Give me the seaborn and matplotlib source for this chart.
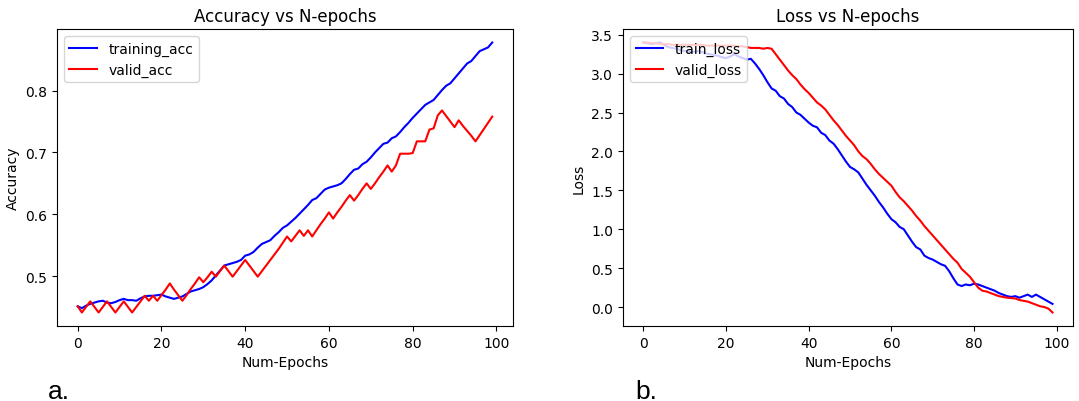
import numpy as np
import matplotlib
matplotlib.use("Agg")
import matplotlib.pyplot as plt
import seaborn as sns

epochs = list(range(100))

training_acc = [
    0.451, 0.448, 0.452, 0.455, 0.457, 0.459, 0.460, 0.457, 0.456, 0.458,
    0.461, 0.463, 0.461, 0.461, 0.460, 0.464, 0.467, 0.468, 0.468, 0.469,
    0.470, 0.467, 0.465, 0.463, 0.465, 0.467, 0.471, 0.475, 0.477, 0.479,
    0.482, 0.487, 0.493, 0.501, 0.509, 0.517, 0.519, 0.521, 0.523, 0.526,
    0.533, 0.535, 0.539, 0.546, 0.552, 0.555, 0.558, 0.565, 0.571, 0.578,
    0.582, 0.588, 0.594, 0.601, 0.608, 0.615, 0.623, 0.626, 0.633, 0.640,
    0.643, 0.645, 0.647, 0.650, 0.657, 0.665, 0.672, 0.674, 0.681, 0.685,
    0.692, 0.700, 0.707, 0.714, 0.716, 0.723, 0.726, 0.733, 0.741, 0.748,
    0.756, 0.763, 0.770, 0.777, 0.781, 0.785, 0.793, 0.801, 0.808, 0.812,
    0.820, 0.828, 0.836, 0.844, 0.848, 0.856, 0.864, 0.867, 0.870, 0.878,
]

valid_acc = [
    0.451, 0.441, 0.450, 0.459, 0.450, 0.441, 0.450, 0.459, 0.450, 0.441,
    0.450, 0.459, 0.450, 0.441, 0.450, 0.459, 0.468, 0.460, 0.468, 0.460,
    0.469, 0.478, 0.488, 0.478, 0.469, 0.460, 0.469, 0.479, 0.488, 0.498,
    0.490, 0.498, 0.507, 0.499, 0.508, 0.517, 0.508, 0.499, 0.508, 0.517,
    0.526, 0.517, 0.508, 0.499, 0.508, 0.517, 0.526, 0.535, 0.544, 0.554,
    0.564, 0.556, 0.565, 0.574, 0.565, 0.574, 0.564, 0.574, 0.584, 0.593,
    0.603, 0.593, 0.603, 0.612, 0.622, 0.631, 0.622, 0.631, 0.641, 0.650,
    0.641, 0.650, 0.660, 0.669, 0.679, 0.669, 0.679, 0.698, 0.698, 0.698,
    0.699, 0.718, 0.718, 0.718, 0.737, 0.739, 0.760, 0.768, 0.759, 0.750,
    0.741, 0.752, 0.743, 0.735, 0.727, 0.718, 0.728, 0.738, 0.748, 0.758,
]

train_loss = [
    3.40, 3.39, 3.38, 3.39, 3.40, 3.37, 3.34, 3.33, 3.32, 3.30,
    3.29, 3.28, 3.28, 3.29, 3.28, 3.26, 3.25, 3.24, 3.23, 3.21,
    3.20, 3.22, 3.25, 3.22, 3.20, 3.18, 3.19, 3.13, 3.06, 2.98,
    2.89, 2.81, 2.78, 2.71, 2.68, 2.61, 2.57, 2.50, 2.47, 2.42,
    2.37, 2.33, 2.31, 2.24, 2.21, 2.14, 2.10, 2.03, 1.95, 1.87,
    1.80, 1.77, 1.73, 1.65, 1.57, 1.50, 1.43, 1.35, 1.28, 1.20,
    1.13, 1.09, 1.03, 1.00, 0.92, 0.84, 0.77, 0.74, 0.66, 0.63,
    0.61, 0.58, 0.55, 0.53, 0.46, 0.37, 0.29, 0.27, 0.29, 0.28,
    0.30, 0.29, 0.27, 0.25, 0.23, 0.21, 0.18, 0.16, 0.14, 0.13,
    0.14, 0.12, 0.14, 0.16, 0.13, 0.16, 0.13, 0.10, 0.07, 0.04,
]

valid_loss = [
    3.40, 3.40, 3.39, 3.39, 3.38, 3.38, 3.38, 3.37, 3.37, 3.37,
    3.37, 3.37, 3.37, 3.37, 3.37, 3.36, 3.36, 3.36, 3.36, 3.36,
    3.36, 3.36, 3.36, 3.35, 3.35, 3.34, 3.33, 3.33, 3.33, 3.32,
    3.33, 3.32, 3.25, 3.18, 3.11, 3.04, 2.98, 2.93, 2.86, 2.80,
    2.75, 2.69, 2.63, 2.59, 2.54, 2.47, 2.40, 2.34, 2.27, 2.20,
    2.14, 2.08, 2.00, 1.94, 1.90, 1.84, 1.77, 1.71, 1.66, 1.61,
    1.56, 1.48, 1.41, 1.36, 1.30, 1.24, 1.17, 1.11, 1.04, 0.98,
    0.92, 0.86, 0.80, 0.74, 0.68, 0.62, 0.57, 0.49, 0.44, 0.39,
    0.32, 0.25, 0.21, 0.20, 0.18, 0.16, 0.14, 0.13, 0.12, 0.115,
    0.11, 0.09, 0.08, 0.07, 0.05, 0.03, 0.01, 0.00, -0.02, -0.07,
]

fig = plt.figure(figsize=(10.79, 4.02), dpi=100)
ax1 = fig.add_axes([0.0528, 0.1866, 0.4226, 0.7388])
ax2 = fig.add_axes([0.5774, 0.1866, 0.417, 0.7388])

# accuracy panel
sns.lineplot(x=epochs, y=training_acc, color="blue", label="training_acc", ax=ax1)
sns.lineplot(x=epochs, y=valid_acc, color="red", label="valid_acc", ax=ax1)
ax1.set_title("Accuracy vs N-epochs", fontsize=12)
ax1.set_xlabel("Num-Epochs")
ax1.set_ylabel("Accuracy")
ax1.legend(loc="upper left")

# loss panel
sns.lineplot(x=epochs, y=train_loss, color="blue", label="train_loss", ax=ax2)
sns.lineplot(x=epochs, y=valid_loss, color="red", label="valid_loss", ax=ax2)
ax2.set_title("Loss vs N-epochs", fontsize=12)
ax2.set_xlabel("Num-Epochs")
ax2.set_ylabel("Loss")
ax2.legend(loc="upper left")

# panel letters
fig.text(0.044, 0.008, "a.", fontsize=19, family="Liberation Sans")
fig.text(0.589, 0.008, "b.", fontsize=19, family="Liberation Sans")

fig.savefig("out.png", dpi=100)
